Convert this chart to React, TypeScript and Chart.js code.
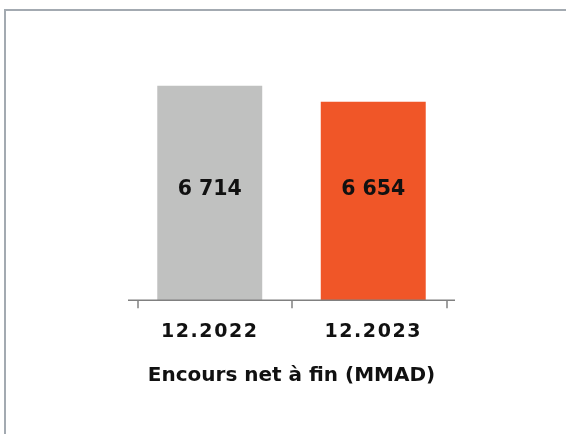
import React, { useEffect, useRef } from "react";
import { Chart, registerables } from "chart.js";

Chart.register(...registerables);

const categories = ["12.2022", "12.2023"];
const values = [6714, 6654];
const barColors = ["#c0c1c0", "#f05628"];
const axisTitle = "Encours net à fin (MMAD)";
const tickValues = [-0.44, 0.5, 1.45];
const yMin = 5910;
const yMax = 6900;
const labelBaselineValue = 6304;

const FONT = "'DejaVu Sans', sans-serif";
const TEXT = "#111111";
const AXIS = "#808080";

const fmt = (v: number) => String(v).replace(/\B(?=(\d{3})+(?!\d))/g, " ");

const decorPlugin = {
  id: "decor",
  afterDatasetsDraw(chart: any) {
    const { ctx, chartArea, scales } = chart;
    const x = scales.x;
    const y = scales.y;
    ctx.save();
    ctx.strokeStyle = AXIS;
    ctx.lineWidth = 1.5;
    ctx.beginPath();
    ctx.moveTo(chartArea.left, chartArea.bottom);
    ctx.lineTo(chartArea.right, chartArea.bottom);
    ctx.stroke();
    tickValues.forEach((v) => {
      const px = Math.round(x.getPixelForValue(v));
      ctx.beginPath();
      ctx.moveTo(px, chartArea.bottom);
      ctx.lineTo(px, chartArea.bottom + 8);
      ctx.stroke();
    });
    const meta = chart.getDatasetMeta(0);
    ctx.fillStyle = TEXT;
    ctx.font = `bold 20.5px ${FONT}`;
    ctx.textAlign = "center";
    ctx.textBaseline = "alphabetic";
    const ly = y.getPixelForValue(labelBaselineValue);
    meta.data.forEach((bar: any, i: number) => {
      ctx.fillText(fmt(values[i]), bar.x, ly);
    });
    ctx.restore();
    // letter spacing for the tick labels drawn after datasets
    (ctx as any).letterSpacing = "1.6px";
  },
  afterDraw(chart: any) {
    (chart.ctx as any).letterSpacing = "0px";
  },
};

export default function App() {
  const ref = useRef<HTMLCanvasElement | null>(null);

  useEffect(() => {
    if (!ref.current) return;
    const chart = new Chart(ref.current, {
      type: "bar",
      data: {
        labels: categories,
        datasets: [
          {
            data: values,
            backgroundColor: barColors,
            borderWidth: 0,
            barPercentage: 0.642,
            categoryPercentage: 1,
          },
        ],
      },
      options: {
        responsive: false,
        maintainAspectRatio: false,
        animation: false,
        layout: { padding: { left: 128, right: 111, top: 36, bottom: 46 } },
        plugins: {
          legend: { display: false },
          tooltip: { enabled: false },
        },
        scales: {
          x: {
            type: "category",
            offset: true,
            grid: { display: false, drawTicks: false, tickLength: 0 },
            border: { display: false },
            ticks: {
              z: 1,
              padding: 20,
              color: TEXT,
              font: { family: FONT, size: 19, weight: "bold" },
            },
            title: {
              display: true,
              text: axisTitle,
              color: TEXT,
              padding: { top: 1, bottom: 0 },
              font: { family: FONT, size: 20, weight: "bold" },
            },
          },
          y: {
            display: false,
            min: yMin,
            max: yMax,
          },
        },
      },
      plugins: [decorPlugin],
    });
    return () => chart.destroy();
  }, []);

  return (
    <div style={{ position: "fixed", left: 0, top: 0, width: 566, height: 434, background: "#fff", overflow: "hidden" }}>
      <div
        style={{
          position: "absolute",
          left: 4,
          top: 9,
          width: 600,
          height: 500,
          borderTop: "2px solid #a3aab1",
          borderLeft: "2px solid #a3aab1",
        }}
      />
      <canvas ref={ref} width={566} height={434} style={{ position: "absolute", left: 0, top: 0, width: 566, height: 434 }} />
    </div>
  );
}
